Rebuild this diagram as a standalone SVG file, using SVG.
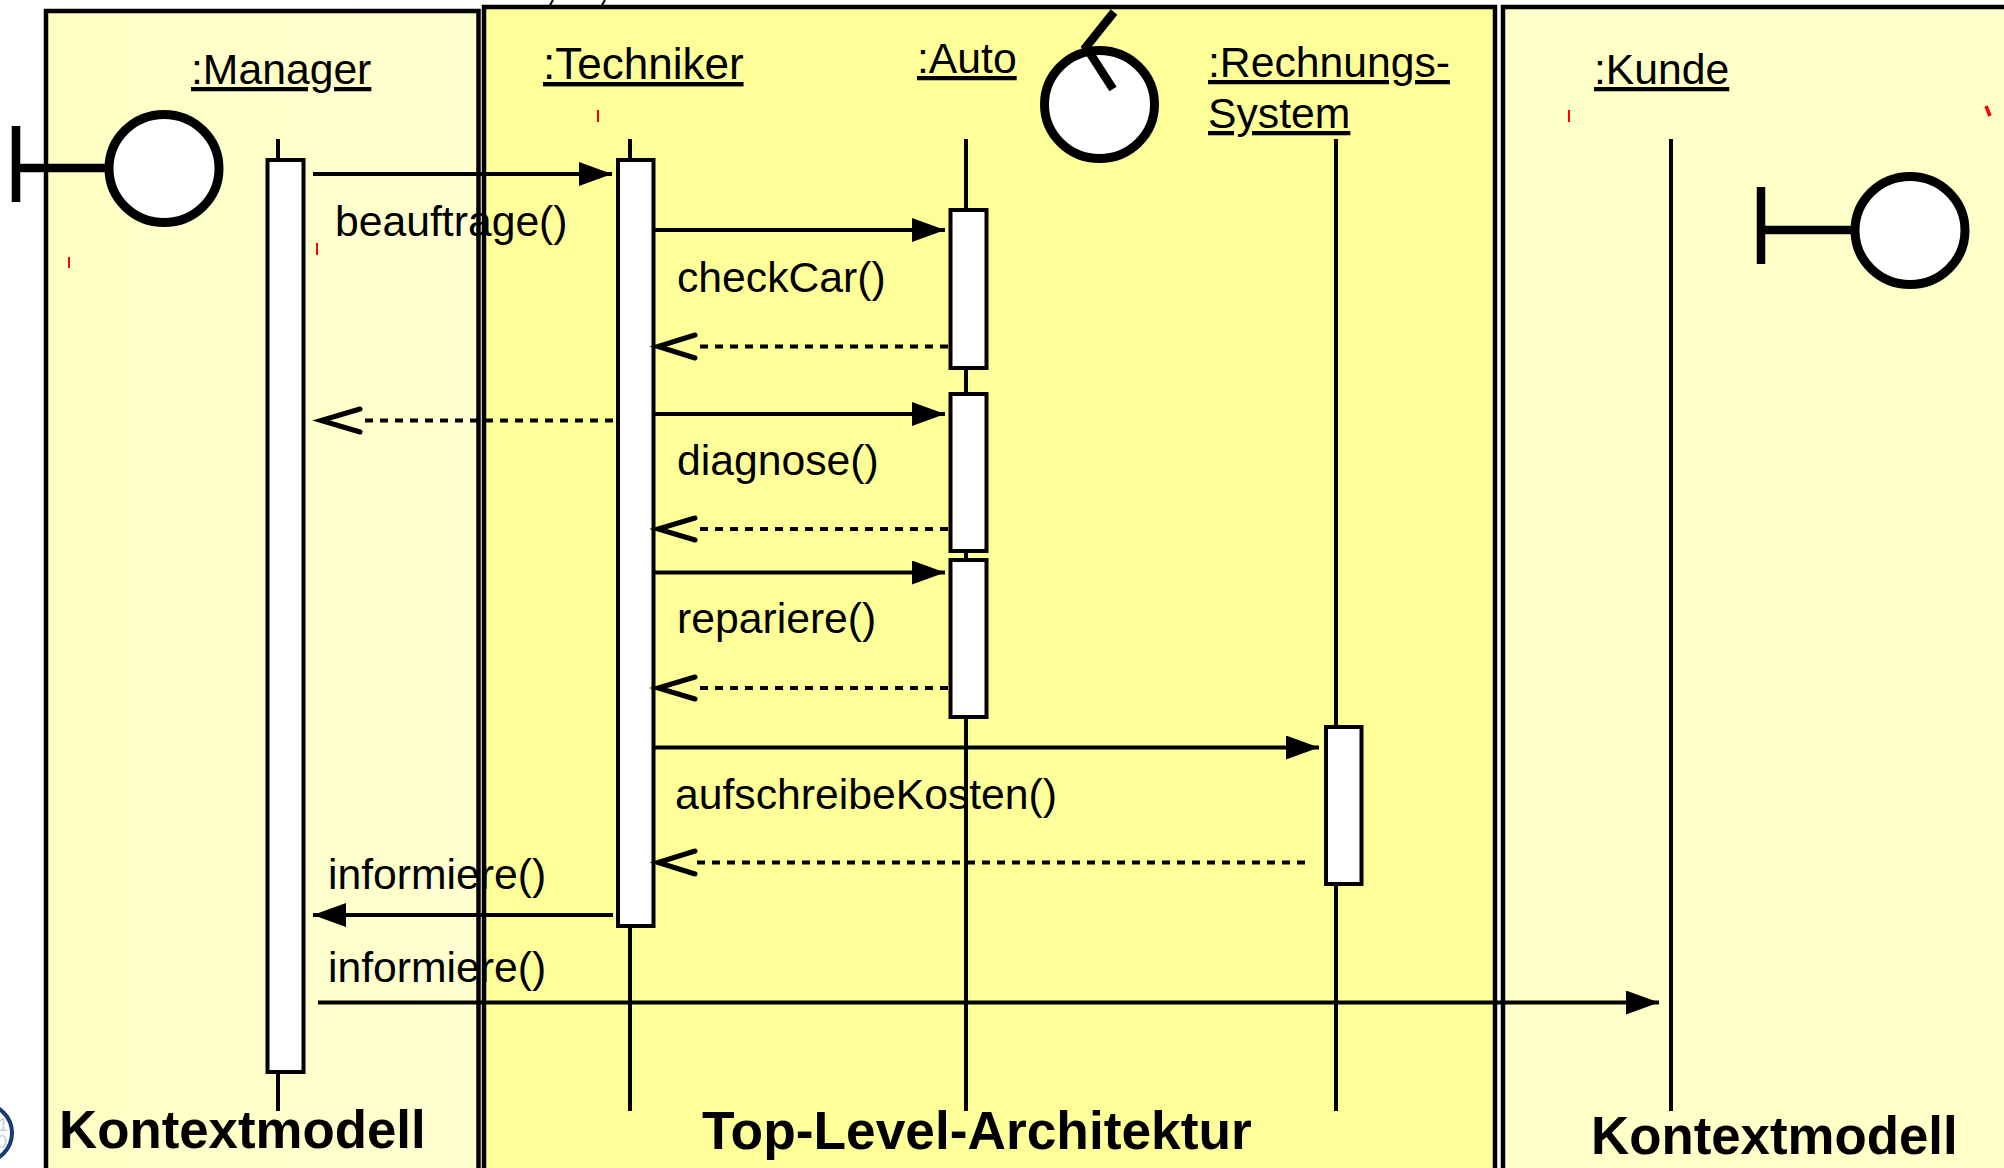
<svg xmlns="http://www.w3.org/2000/svg" width="2004" height="1168" viewBox="0 0 2004 1168">
<style>
text{font-family:"Liberation Sans",Arial,sans-serif;fill:#000}
.lb{font-size:42.700px}
.u{text-decoration:underline}
.t{font-size:52.800px;font-weight:bold}
.p{stroke:#000;stroke-width:4.500}
.ll{stroke:#000;stroke-width:4;fill:none}
.act{fill:#fff;stroke:#000;stroke-width:4}
.ic{fill:#fff;stroke:#000;stroke-width:9}
.b{stroke:#000;stroke-width:8.500;fill:none}
.m{stroke:#000;stroke-width:4;fill:none}
.r{stroke:#000;stroke-width:4;fill:none;stroke-dasharray:8 7}
.o{stroke:#000;stroke-width:5;fill:none;stroke-linecap:round}
.red{stroke:#f00;stroke-width:2}
</style>
<defs>
<marker id="a" markerUnits="userSpaceOnUse" markerWidth="33" markerHeight="24" refX="33" refY="12" orient="auto"><path d="M0 0L33 12L0 24Z" fill="#000"/></marker>
<linearGradient id="g"><stop offset="0" stop-color="#ffffc4"/><stop offset="1" stop-color="#ffffd0"/></linearGradient>
</defs>
<rect width="2004" height="1168" fill="#fff"/>
<rect id="panel-left" class="p" x="46" y="11" width="432.500" height="1170" fill="url(#g)"/>
<rect id="panel-middle" class="p" x="484" y="7" width="1011" height="1175" fill="#ffff99"/>
<rect id="panel-right" class="p" x="1503" y="7" width="540" height="1175" fill="#ffffc8"/>
<g id="logo"><circle cx="-17" cy="1133" r="29" fill="#fff" stroke="#1a3a70" stroke-width="4"/><text x="-2" y="1131" font-size="18" style="fill:#c4cce8">1</text><text x="-3" y="1148" font-size="18" style="fill:#c4cce8">0</text></g>
<g id="ticks"><path class="red" d="M69 257V268M317 243V255M598 110V122M1569 110V122"/><path d="M1986 106L1990 116" stroke="#f00" stroke-width="3.500"/><path d="M550 5L553 0M602 5L605 0" stroke="#000" stroke-width="2"/></g>
<g id="lifelines">
<path class="ll" d="M278 139V1111M630 139V1111M966 139V1111M1336 139V1111M1671 139V1111"/>
</g>
<g id="manager"><rect class="act" x="267.500" y="160" width="36" height="912"/><text class="lb u" x="191" y="84">:Manager</text></g>
<g id="techniker"><rect class="act" x="618" y="160" width="35.500" height="766"/><text class="lb u" style="font-size:44px" x="543" y="79">:Techniker</text></g>
<g id="auto"><rect class="act" x="950.500" y="210" width="36" height="158"/><rect class="act" x="950.500" y="394" width="36" height="157"/><rect class="act" x="950.500" y="560" width="36" height="157"/><text class="lb u" x="917" y="73">:Auto</text></g>
<g id="rechnungssystem"><rect class="act" x="1326" y="727" width="35.500" height="157"/><text class="lb u" x="1208" y="77">:Rechnungs-</text><text class="lb u" x="1208" y="128">System</text></g>
<g id="kunde"><text class="lb u" x="1594" y="84">:Kunde</text></g>
<g id="boundary-left"><path class="b" d="M16 126V202M16 168H108"/><ellipse class="ic" cx="164" cy="168.500" rx="55" ry="54"/></g>
<g id="control"><ellipse class="ic" cx="1099.500" cy="104.500" rx="55" ry="54"/><path class="b" d="M1114 12L1086 47L1113 89"/></g>
<g id="boundary-right"><path class="b" d="M1761 187V264M1761 230H1852"/><ellipse class="ic" cx="1910" cy="230.500" rx="55" ry="54"/></g>
<g id="connectors">
<path class="m" marker-end="url(#a)" d="M313 174H612"/>
<path class="m" marker-end="url(#a)" d="M654 230H945"/>
<path class="r" d="M948 346.500H695"/><path class="o" d="M695 335L658 346.500L695 358"/>
<path class="m" marker-end="url(#a)" d="M654 414H945"/>
<path class="r" d="M613 420.500H360"/><path class="o" d="M360 409L321 420.500L360 432"/>
<path class="r" d="M948 529H695"/><path class="o" d="M695 518L658 529L695 540"/>
<path class="m" marker-end="url(#a)" d="M654 572.500H945"/>
<path class="r" d="M948 688H695"/><path class="o" d="M695 677L658 688L695 699"/>
<path class="m" marker-end="url(#a)" d="M654 747.500H1319"/>
<path class="r" d="M1305 862.500H695"/><path class="o" d="M695 851L658 862.500L695 874"/>
<path class="m" marker-end="url(#a)" d="M613 915H313"/>
<path class="m" marker-end="url(#a)" d="M318 1002.500H1659"/>
</g>
<g id="labels">
<text class="lb" x="335" y="236">beauftrage()</text>
<text class="lb" x="677" y="292">checkCar()</text>
<text class="lb" x="677" y="475">diagnose()</text>
<text class="lb" x="677" y="633">repariere()</text>
<text class="lb" x="675" y="809">aufschreibeKosten()</text>
<text class="lb" x="328" y="889">informiere()</text>
<text class="lb" x="328" y="982">informiere()</text>
<text class="t" x="59" y="1148">Kontextmodell</text>
<text class="t" style="font-size:53.300px" x="702" y="1149">Top-Level-Architektur</text>
<text class="t" x="1591" y="1154">Kontextmodell</text>
</g>
</svg>
